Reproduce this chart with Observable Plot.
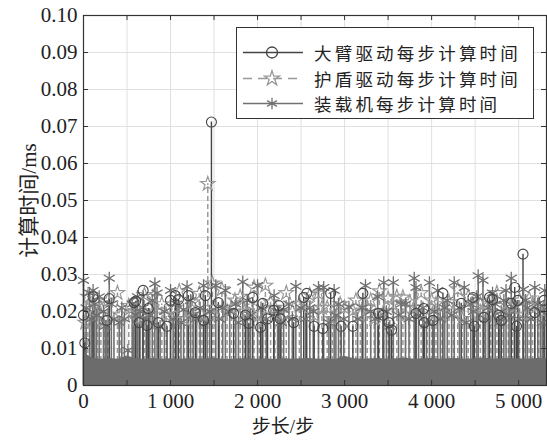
<!DOCTYPE html>
<html><head><meta charset="utf-8">
<script src="https://cdn.jsdelivr.net/npm/d3@7"></script>
<script src="https://cdn.jsdelivr.net/npm/@observablehq/plot@0.6"></script>
<style>
html,body{margin:0;padding:0;background:#fff;}
#wrap{position:relative;width:547px;height:441px;overflow:hidden;}
#legend{position:absolute;left:236px;top:27px;width:298px;height:92px;border:1.5px solid #333;background:#fff;box-sizing:border-box;}
.row{position:absolute;left:0;height:25px;display:flex;align-items:center;}
.row svg{margin-left:5px;}
.row span{margin-left:10px;font-family:'Noto Sans CJK SC',sans-serif;font-size:17.5px;letter-spacing:3.2px;color:#222;line-height:25px;}
#xlabel{position:absolute;left:283px;top:427px;transform:translate(-50%,-50%);font-family:'Liberation Serif','Noto Sans CJK SC',serif;font-size:19px;color:#222;white-space:nowrap;line-height:20px;}
</style></head>
<body><div id="wrap"></div>
<script>
// ---- data ----
const seriesNames = ["大臂驱动每步计算时间", "护盾驱动每步计算时间", "装载机每步计算时间"];
const xTicks = [0, 1000, 2000, 3000, 4000, 5000];
const xGrid = [0, 500, 1000, 1500, 2000, 2500, 3000, 3500, 4000, 4500, 5000];
const yTicks = [0, 0.01, 0.02, 0.03, 0.04, 0.05, 0.06, 0.07, 0.08, 0.09, 0.10];

// dense low-level band (upper envelope read every 100 steps)
const baseSteps = [0,50,100,200,300,400,500,600,700,800,900,1000,1100,1200,1300,1400,1500,1600,1700,1800,1900,2000,2100,2200,2300,2400,2500,2600,2700,2800,2900,3000,3100,3200,3300,3400,3500,3600,3700,3800,3900,4000,4100,4200,4300,4400,4500,4600,4700,4800,4900,5000,5100,5200,5320];
const baseValues = [0.0098,0.0082,0.0074,0.0071,0.0073,0.0071,0.0080,0.0072,0.0070,0.0073,0.0071,0.0072,0.0070,0.0073,0.0071,0.0072,0.0074,0.0071,0.0070,0.0072,0.0073,0.0071,0.0072,0.0070,0.0073,0.0071,0.0072,0.0073,0.0071,0.0072,0.0070,0.0079,0.0073,0.0071,0.0072,0.0073,0.0071,0.0072,0.0074,0.0071,0.0072,0.0073,0.0071,0.0072,0.0073,0.0071,0.0072,0.0074,0.0071,0.0072,0.0073,0.0072,0.0071,0.0073,0.0072];

// spikes: 大臂驱动 (circles)
const armSteps = [0,15,110,270,296,580,600,640,685,730,745,860,960,1000,1055,1090,1205,1285,1380,1400,1470,1550,1725,1860,1900,1945,2035,2060,2115,2185,2245,2260,2415,2530,2565,2650,2750,2840,2960,3095,3210,3390,3440,3510,3540,3820,3910,3915,4015,4130,4340,4475,4490,4600,4665,4700,4770,4800,4915,4955,4975,4990,5050,5185,5290];
const armValues = [0.019,0.0115,0.024,0.0176,0.0235,0.0224,0.0228,0.017,0.0257,0.0162,0.0208,0.017,0.016,0.023,0.0243,0.0232,0.0243,0.0197,0.0176,0.0243,0.0712,0.0224,0.0195,0.019,0.0168,0.0238,0.0157,0.0222,0.018,0.0203,0.0216,0.018,0.017,0.0238,0.0249,0.016,0.0154,0.0249,0.016,0.016,0.0249,0.0195,0.019,0.017,0.015,0.0195,0.0208,0.017,0.0176,0.0249,0.0222,0.0238,0.016,0.0184,0.0238,0.0232,0.019,0.0176,0.0222,0.0265,0.016,0.023,0.0355,0.0197,0.023];

// spikes: 护盾驱动 (stars)
const shieldSteps = [20,50,100,160,200,240,280,390,430,520,560,620,700,760,800,900,950,1050,1100,1160,1210,1250,1330,1360,1428,1480,1500,1590,1650,1700,1740,1800,1850,1900,1960,2020,2090,2150,2200,2280,2330,2400,2480,2560,2600,2650,2700,2740,2800,2860,2950,3000,3095,3130,3180,3260,3300,3340,3400,3450,3500,3550,3600,3670,3700,3750,3800,3880,3950,4000,4050,4120,4200,4250,4300,4350,4420,4500,4560,4600,4680,4750,4820,4880,4930,5010,5060,5120,5160,5230,5280];
const shieldValues = [0.017,0.024,0.020,0.022,0.021,0.018,0.023,0.025,0.019,0.0215,0.020,0.018,0.0245,0.021,0.024,0.022,0.019,0.021,0.0255,0.018,0.020,0.0225,0.0248,0.019,0.0545,0.0276,0.021,0.026,0.020,0.021,0.023,0.024,0.020,0.022,0.0265,0.019,0.027,0.0225,0.021,0.018,0.025,0.020,0.022,0.022,0.0245,0.019,0.0249,0.021,0.021,0.018,0.022,0.021,0.0203,0.023,0.019,0.021,0.023,0.018,0.0255,0.020,0.0235,0.022,0.024,0.0238,0.019,0.0225,0.021,0.025,0.018,0.023,0.022,0.019,0.0225,0.020,0.026,0.018,0.024,0.021,0.022,0.020,0.023,0.025,0.019,0.0215,0.021,0.023,0.019,0.0235,0.022,0.022,0.020];

// spikes: 装载机 (asterisks)
const loaderSteps = [0,30,70,90,110,130,150,180,230,250,296,320,350,410,440,470,510,560,600,620,650,680,720,760,790,820,845,880,930,1000,1030,1070,1120,1150,1190,1230,1260,1300,1340,1380,1420,1450,1520,1560,1600,1630,1680,1750,1780,1830,1880,1920,2000,2040,2100,2190,2230,2270,2300,2360,2400,2440,2500,2550,2600,2640,2700,2760,2820,2880,2900,2930,2990,3050,3150,3200,3240,3300,3350,3380,3450,3480,3520,3560,3620,3650,3700,3740,3800,3820,3850,3900,3940,3975,4030,4070,4100,4150,4180,4230,4260,4320,4375,4400,4450,4480,4520,4535,4590,4620,4650,4700,4730,4780,4800,4830,4855,4890,4915,4950,5000,5055,5080,5100,5140,5185,5220,5250,5270,5300];
const loaderValues = [0.0284,0.021,0.025,0.018,0.0257,0.022,0.019,0.024,0.020,0.016,0.029,0.022,0.018,0.017,0.021,0.018,0.0095,0.022,0.019,0.024,0.020,0.021,0.018,0.019,0.023,0.0275,0.025,0.016,0.020,0.0257,0.018,0.022,0.017,0.0205,0.0267,0.023,0.019,0.018,0.021,0.027,0.017,0.020,0.027,0.018,0.021,0.0257,0.020,0.022,0.017,0.028,0.023,0.019,0.027,0.021,0.018,0.0243,0.020,0.017,0.0205,0.022,0.018,0.0268,0.021,0.018,0.021,0.020,0.0265,0.0265,0.017,0.0257,0.019,0.022,0.018,0.0212,0.018,0.021,0.027,0.020,0.018,0.024,0.0278,0.020,0.016,0.0278,0.019,0.022,0.022,0.018,0.029,0.0265,0.019,0.021,0.017,0.0278,0.020,0.0257,0.018,0.021,0.023,0.019,0.0278,0.021,0.0265,0.017,0.022,0.020,0.024,0.0297,0.0284,0.018,0.021,0.025,0.022,0.017,0.020,0.023,0.0257,0.019,0.029,0.021,0.018,0.026,0.023,0.021,0.018,0.0265,0.022,0.020,0.017,0.0257];

// ---- build tables ----
const base = baseSteps.map((s, i) => ({step: s, value: baseValues[i]}));
const arm = armSteps.map((s, i) => ({step: s, value: armValues[i]}));
const shield = shieldSteps.map((s, i) => ({step: s, value: shieldValues[i]}));
const loader = loaderSteps.map((s, i) => ({step: s, value: loaderValues[i]}));

const W = 547, H = 441, mL = 83, mR = 1, mT = 15, mB = 56;
const pw = W - mL - mR, ph = H - mT - mB;
const c1 = "#444444", c2 = "#999999", c3 = "#707070";

const chart = Plot.plot({
  width: W, height: H,
  marginLeft: mL, marginRight: mR, marginTop: mT, marginBottom: mB,
  x: {domain: [0, 5320]},
  y: {domain: [0, 0.1]},
  style: {fontFamily: "'Liberation Serif','Noto Sans CJK SC',serif", fontSize: "21px", background: "#fff", color: "#222"},
  marks: [
    Plot.gridX(xGrid, {stroke: "#dcdcdc", strokeOpacity: 1, strokeWidth: 0.9}),
    Plot.gridY(yTicks, {stroke: "#dcdcdc", strokeOpacity: 1, strokeWidth: 0.9}),
    Plot.ruleX(shield, {x: "step", y1: 0, y2: "value", stroke: c2, strokeWidth: 1.5, strokeDasharray: "5,3"}),
    Plot.ruleX(loader, {x: "step", y1: 0, y2: "value", stroke: c3, strokeWidth: 1.6}),
    Plot.ruleX(arm, {x: "step", y1: 0, y2: "value", stroke: c1, strokeWidth: 1.4}),
    Plot.areaY(base, {x: "step", y: "value", fill: "#6c6c6c"}),
    Plot.dot(shield, {x: "step", y: "value", symbol: "star", r: 4.5, stroke: c2, strokeWidth: 1.2, fill: "none"}),
    Plot.dot(loader, {x: "step", y: "value", symbol: "asterisk", r: 6, stroke: c3, strokeWidth: 1.3}),
    Plot.dot(arm, {x: "step", y: "value", r: 5, stroke: c1, strokeWidth: 1.1, fill: "none"}),
    // inward tick marks (bottom, top, left, right)
    Plot.ruleX(xGrid, {stroke: "#333", insetTop: ph - 5}),
    Plot.ruleX(xGrid, {stroke: "#333", insetBottom: ph - 5}),
    Plot.ruleY(yTicks, {stroke: "#333", insetRight: pw - 5}),
    Plot.ruleY(yTicks, {stroke: "#333", insetLeft: pw - 5}),
    Plot.frame({stroke: "#333", strokeWidth: 1.2}),
    Plot.axisX(xTicks, {tickSize: 0, tickPadding: 8, label: null,
      tickFormat: d => d === 0 ? "0" : d3.format(",")(d).replace(",", " ")}),
    Plot.axisY(yTicks, {tickSize: 0, tickPadding: 6, label: "计算时间/ms", labelAnchor: "center", labelOffset: 62, labelArrow: "none",
      tickFormat: d => d === 0 ? "0" : d.toFixed(2)})
  ]
});

const wrap = document.getElementById("wrap");
wrap.appendChild(chart);

// legend
const legend = document.createElement("div");
legend.id = "legend";
const samples = [
  {color: c1, dash: null, sym: `<circle cx="30" cy="12.5" r="5.5" fill="none" stroke="${c1}" stroke-width="1.3"/>`},
  {color: c2, dash: "9,6", sym: `<path transform="translate(30,12.5)" d="${d3.symbol(d3.symbolStar, 70)()}" fill="none" stroke="${c2}" stroke-width="1.3"/>`},
  {color: c3, dash: null, sym: `<path transform="translate(30,12.5)" d="${d3.symbol(d3.symbolAsterisk, 90)()}" fill="none" stroke="${c3}" stroke-width="1.3"/>`}
];
seriesNames.forEach((name, i) => {
  const row = document.createElement("div");
  row.className = "row";
  row.style.top = (12 + i * 25.5) + "px";
  const s = samples[i];
  row.innerHTML = `<svg width="62" height="25"><line x1="1" x2="61" y1="12.5" y2="12.5" stroke="${s.color}" stroke-width="1.5" ${s.dash ? `stroke-dasharray="${s.dash}"` : ""}/>${s.sym}</svg><span>${name}</span>`;
  legend.appendChild(row);
});
wrap.appendChild(legend);

const xl = document.createElement("div");
xl.id = "xlabel";
xl.textContent = "步长/步";
wrap.appendChild(xl);
</script>
</body></html>
